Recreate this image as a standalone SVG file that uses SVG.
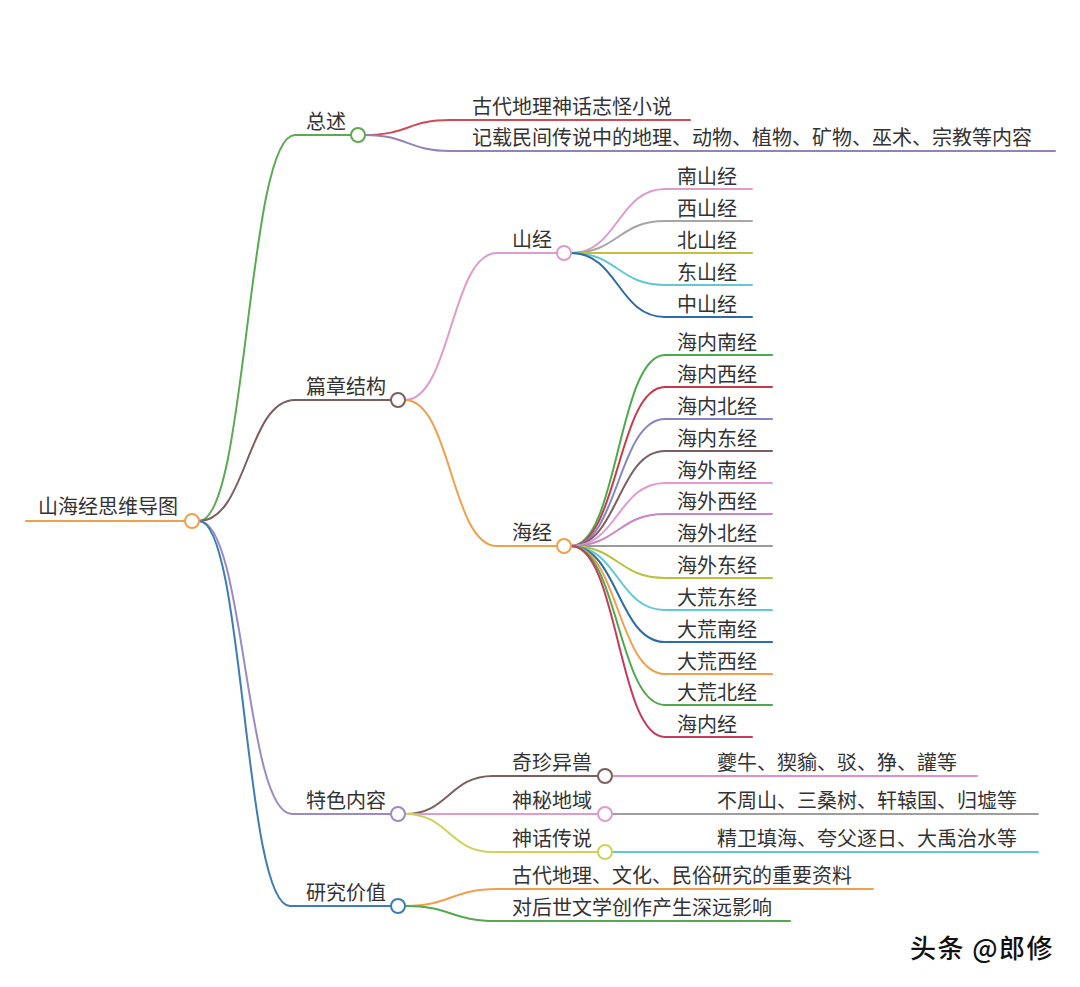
<svg xmlns="http://www.w3.org/2000/svg" width="1080" height="987" viewBox="0 0 1080 987">
<style>
text{font-family:"Noto Sans CJK SC","Noto Sans",sans-serif;font-size:20px;fill:#333}
.l{fill:none;stroke-width:2;stroke-linecap:round}
.c{fill:#fff;stroke-width:2}
.wm{font-size:26px;fill:#111;font-weight:500;letter-spacing:1.5px}
</style>
<rect width="1080" height="987" fill="#fff"/>
<g id="connectors" class="l">
<path d="M199 521C247 521 247 135 295 135" stroke="#5aaa52"/>
<path d="M199 521C247 521 247 400 295 400" stroke="#7d5e5e"/>
<path d="M199 521C245 521 245 814 292 814" stroke="#9b8ac6"/>
<path d="M199 521C244 521 244 906 290 906" stroke="#3c7db2"/>
<path d="M365 135C408 135 408 120 450 120" stroke="#d04a58"/>
<path d="M365 135C408 135 408 151 450 151" stroke="#9184b5"/>
<path d="M405 400C451 400 451 253 497 253" stroke="#de9ccb"/>
<path d="M405 400C451 400 451 546 497 546" stroke="#f0a04b"/>
<path d="M571 253C618 253 618 189 665 189" stroke="#de9ccb"/>
<path d="M571 253C618 253 618 221 665 221" stroke="#a6a6a6"/>
<path d="M571 253H665" stroke="#c4bf3c"/>
<path d="M571 253C618 253 618 285 665 285" stroke="#62c9d2"/>
<path d="M571 253C618 253 618 317 665 317" stroke="#2f6ba3"/>
<path d="M571 546C618 546 618 355 665 355" stroke="#4caa4c"/>
<path d="M571 546C618 546 618 387 665 387" stroke="#c83a4a"/>
<path d="M571 546C618 546 618 419 665 419" stroke="#8585c4"/>
<path d="M571 546C618 546 618 451 665 451" stroke="#7d5e5e"/>
<path d="M571 546C618 546 618 483 665 483" stroke="#e29ad0"/>
<path d="M571 546C618 546 618 514 665 514" stroke="#c687c8"/>
<path d="M571 546H665" stroke="#9a9a9a"/>
<path d="M571 546C618 546 618 578 665 578" stroke="#b8c240"/>
<path d="M571 546C618 546 618 610 665 610" stroke="#60c8d8"/>
<path d="M571 546C618 546 618 642 665 642" stroke="#2e6ea8"/>
<path d="M571 546C618 546 618 674 665 674" stroke="#f0a04b"/>
<path d="M571 546C618 546 618 705 665 705" stroke="#4caa4c"/>
<path d="M571 546C618 546 618 737 665 737" stroke="#c83a5a"/>
<path d="M405 814C449 814 449 776 493 776" stroke="#7d5e5e"/>
<path d="M405 814H493" stroke="#de9ccb"/>
<path d="M405 814C449 814 449 852 493 852" stroke="#cdd25a"/>
<path d="M612 776H705" stroke="#e08fd0"/>
<path d="M612 814H705" stroke="#9e9e9e"/>
<path d="M612 852H705" stroke="#5ec7d6"/>
<path d="M405 906C451 906 451 889 497 889" stroke="#f0a04b"/>
<path d="M405 906C451 906 451 921 497 921" stroke="#55a84f"/>
</g>
<g id="root"><path class="l" d="M26 521H185" stroke="#f0a04b" stroke-width="3"/><circle class="c" cx="192" cy="521" r="7" stroke="#f0a04b"/><text x="38" y="514">山海经思维导图</text></g>
<g id="n-zongshu"><path class="l" d="M295 135H351" stroke="#5aaa52"/><circle class="c" cx="358" cy="135" r="7" stroke="#5aaa52"/><text x="306" y="129">总述</text></g>
<g id="n-zs1"><path class="l" d="M450 120H690" stroke="#d04a58"/><text x="472" y="114">古代地理神话志怪小说</text></g>
<g id="n-zs2"><path class="l" d="M450 151H1055" stroke="#9184b5"/><text x="472" y="145">记载民间传说中的地理、动物、植物、矿物、巫术、宗教等内容</text></g>
<g id="n-pianzhang"><path class="l" d="M295 400H391" stroke="#7d5e5e"/><circle class="c" cx="398" cy="400" r="7" stroke="#7d5e5e"/><text x="306" y="394">篇章结构</text></g>
<g id="n-shanjing"><path class="l" d="M497 253H557" stroke="#de9ccb"/><circle class="c" cx="564" cy="253" r="7" stroke="#de9ccb"/><text x="512" y="247">山经</text></g>
<g id="n-s1"><path class="l" d="M665 189H752" stroke="#de9ccb"/><text x="677" y="184">南山经</text></g>
<g id="n-s2"><path class="l" d="M665 221H752" stroke="#a6a6a6"/><text x="677" y="216">西山经</text></g>
<g id="n-s3"><path class="l" d="M665 253H752" stroke="#c4bf3c"/><text x="677" y="248">北山经</text></g>
<g id="n-s4"><path class="l" d="M665 285H752" stroke="#62c9d2"/><text x="677" y="280">东山经</text></g>
<g id="n-s5"><path class="l" d="M665 317H752" stroke="#2f6ba3"/><text x="677" y="312">中山经</text></g>
<g id="n-haijing"><path class="l" d="M497 546H557" stroke="#f0a04b"/><circle class="c" cx="564" cy="546" r="7" stroke="#f0a04b"/><text x="512" y="540">海经</text></g>
<g id="n-h1"><path class="l" d="M665 355H772" stroke="#4caa4c"/><text x="677" y="350">海内南经</text></g>
<g id="n-h2"><path class="l" d="M665 387H772" stroke="#c83a4a"/><text x="677" y="382">海内西经</text></g>
<g id="n-h3"><path class="l" d="M665 419H772" stroke="#8585c4"/><text x="677" y="414">海内北经</text></g>
<g id="n-h4"><path class="l" d="M665 451H772" stroke="#7d5e5e"/><text x="677" y="446">海内东经</text></g>
<g id="n-h5"><path class="l" d="M665 483H772" stroke="#e29ad0"/><text x="677" y="478">海外南经</text></g>
<g id="n-h6"><path class="l" d="M665 514H772" stroke="#c687c8"/><text x="677" y="509">海外西经</text></g>
<g id="n-h7"><path class="l" d="M665 546H772" stroke="#9a9a9a"/><text x="677" y="541">海外北经</text></g>
<g id="n-h8"><path class="l" d="M665 578H772" stroke="#b8c240"/><text x="677" y="573">海外东经</text></g>
<g id="n-h9"><path class="l" d="M665 610H772" stroke="#60c8d8"/><text x="677" y="605">大荒东经</text></g>
<g id="n-h10"><path class="l" d="M665 642H772" stroke="#2e6ea8"/><text x="677" y="637">大荒南经</text></g>
<g id="n-h11"><path class="l" d="M665 674H772" stroke="#f0a04b"/><text x="677" y="669">大荒西经</text></g>
<g id="n-h12"><path class="l" d="M665 705H772" stroke="#4caa4c"/><text x="677" y="700">大荒北经</text></g>
<g id="n-h13"><path class="l" d="M665 737H752" stroke="#c83a5a"/><text x="677" y="732">海内经</text></g>
<g id="n-tese"><path class="l" d="M292 814H391" stroke="#9b8ac6"/><circle class="c" cx="398" cy="814" r="7" stroke="#9b8ac6"/><text x="306" y="808">特色内容</text></g>
<g id="n-t1"><path class="l" d="M493 776H598" stroke="#7d5e5e"/><circle class="c" cx="605" cy="776" r="7" stroke="#7d5e5e"/><text x="512" y="770">奇珍异兽</text></g>
<g id="n-t1a"><path class="l" d="M705 776H977" stroke="#e08fd0"/><text x="717" y="770">夔牛、猰貐、驳、狰、讙等</text></g>
<g id="n-t2"><path class="l" d="M493 814H598" stroke="#de9ccb"/><circle class="c" cx="605" cy="814" r="7" stroke="#de9ccb"/><text x="512" y="808">神秘地域</text></g>
<g id="n-t2a"><path class="l" d="M705 814H1038" stroke="#9e9e9e"/><text x="717" y="808">不周山、三桑树、轩辕国、归墟等</text></g>
<g id="n-t3"><path class="l" d="M493 852H598" stroke="#cdd25a"/><circle class="c" cx="605" cy="852" r="7" stroke="#cdd25a"/><text x="512" y="846">神话传说</text></g>
<g id="n-t3a"><path class="l" d="M705 852H1038" stroke="#5ec7d6"/><text x="717" y="846">精卫填海、夸父逐日、大禹治水等</text></g>
<g id="n-yanjiu"><path class="l" d="M290 906H391" stroke="#3c7db2"/><circle class="c" cx="398" cy="906" r="7" stroke="#3c7db2"/><text x="306" y="900">研究价值</text></g>
<g id="n-y1"><path class="l" d="M497 889H873" stroke="#f0a04b"/><text x="512" y="883">古代地理、文化、民俗研究的重要资料</text></g>
<g id="n-y2"><path class="l" d="M497 921H790" stroke="#55a84f"/><text x="512" y="915">对后世文学创作产生深远影响</text></g>
<text class="wm" x="910" y="958">头条 @郎修</text>
</svg>
